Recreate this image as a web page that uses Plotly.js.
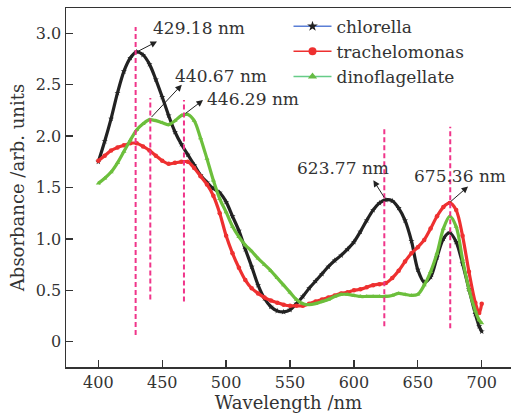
<!DOCTYPE html>
<html>
<head>
<meta charset="utf-8">
<script src="https://cdn.plot.ly/plotly-3.0.1.min.js"></script>
<style>
  html, body { margin: 0; padding: 0; background: #fff; }
  #chart { width: 511px; height: 413px; }
</style>
</head>
<body>
<div id="chart"></div>
<script>
// ---- data ----
const wavelength = [400,405,410,415,420,425,430,435,440,445,450,455,460,465,470,475,480,485,490,495,
  500,505,510,515,520,525,530,535,540,545,550,555,560,565,570,575,580,585,590,595,
  600,605,610,615,620,625,630,635,640,645,650,655,660,665,670,675,680,685,690,695,698,700];

const chlorella = [1.75,1.95,2.17,2.42,2.63,2.76,2.82,2.79,2.70,2.55,2.38,2.20,2.04,1.92,1.82,1.72,1.62,1.55,1.49,1.45,
  1.36,1.22,1.08,0.90,0.73,0.55,0.42,0.34,0.30,0.29,0.31,0.37,0.44,0.52,0.59,0.66,0.73,0.79,0.84,0.90,
  0.97,1.07,1.18,1.28,1.35,1.38,1.37,1.30,1.18,0.98,0.70,0.58,0.63,0.82,1.00,1.06,0.97,0.76,0.51,0.27,0.15,0.10];

const trachelomonas = [1.76,1.81,1.86,1.89,1.91,1.93,1.93,1.90,1.86,1.81,1.76,1.73,1.74,1.75,1.75,1.69,1.61,1.53,1.42,1.25,
  1.03,0.86,0.72,0.60,0.52,0.47,0.43,0.40,0.38,0.36,0.35,0.35,0.35,0.37,0.39,0.41,0.43,0.45,0.47,0.48,
  0.50,0.51,0.53,0.55,0.56,0.57,0.62,0.69,0.78,0.86,0.92,0.99,1.10,1.22,1.31,1.35,1.28,1.03,0.68,0.38,0.28,0.37];

const dinoflagellate = [1.54,1.59,1.65,1.74,1.85,1.96,2.06,2.12,2.16,2.15,2.13,2.11,2.15,2.20,2.21,2.15,1.98,1.78,1.57,1.39,
  1.26,1.12,1.02,0.94,0.88,0.81,0.75,0.69,0.62,0.55,0.48,0.41,0.37,0.36,0.37,0.39,0.41,0.44,0.46,0.46,
  0.45,0.44,0.44,0.44,0.44,0.44,0.45,0.47,0.46,0.45,0.46,0.55,0.68,0.86,1.10,1.22,1.12,0.80,0.51,0.30,0.21,0.18];

const seriesNames = ['chlorella', 'trachelomonas', 'dinoflagellate'];

// peak markers (dashed guide lines) and labels
const peakLineX      = [429.18, 440.67, 467.0, 623.77, 675.36];
const peakLineTop    = [3.06, 2.37, 2.35, 2.08, 2.09];
const peakLineBottom = [0.065, 0.41, 0.39, 0.15, 0.13];
const peakLabels     = ['429.18 nm', '440.67 nm', '446.29 nm', '623.77 nm', '675.36 nm'];
const arrowTailX = [430.3, 440.5, 467.1, 624.4, 674.5];
const arrowTailY = [2.82, 2.17, 2.21, 1.39, 1.35];
const arrowHeadX = [445.9, 465.3, 481.9, 615.2, 689.3];
const arrowHeadY = [2.92, 2.50, 2.35, 1.57, 1.51];
const labelX = [441.2, 458.5, 483.5, 553.8, 645.2];
const labelY = [3.05, 2.58, 2.36, 1.69, 1.61];

// ---- styling ----
const FONT = 'DejaVu Serif, Liberation Serif, serif';
const curveColors  = ['#222222', '#ee3030', '#6cbf3c'];
const legendLine   = ['#5b7fd6', '#ee3030', '#66cc88'];
const legendMarker = ['#222222', '#ee3030', '#66bb44'];
const symbols = ['star', 'circle', 'triangle-up'];
const seriesData = [chlorella, trachelomonas, dinoflagellate];

const traces = [];
seriesData.forEach((ys, i) => {
  traces.push({
    x: wavelength, y: ys, type: 'scatter', mode: 'lines+markers',
    line: { color: curveColors[i], width: 3.2, shape: 'spline', smoothing: 0.9 },
    marker: { symbol: symbols[i], size: 4.5, color: curveColors[i] },
    showlegend: false, hoverinfo: 'skip'
  });
});
seriesData.forEach((ys, i) => {
  traces.push({
    x: [null], y: [null], type: 'scatter', mode: 'lines+markers',
    name: seriesNames[i],
    line: { color: legendLine[i], width: 1.5 },
    marker: { symbol: symbols[i], size: 8, color: legendMarker[i] },
    showlegend: true
  });
});

const shapes = peakLineX.map((x, i) => ({
  type: 'line', xref: 'x', yref: 'y',
  x0: x, x1: x, y0: peakLineBottom[i], y1: peakLineTop[i],
  line: { color: '#f0358a', width: 2, dash: '5px,3px' }
}));

const annotations = [];
peakLabels.forEach((t, i) => {
  annotations.push({
    xref: 'x', yref: 'y', axref: 'x', ayref: 'y',
    x: arrowHeadX[i], y: arrowHeadY[i], ax: arrowTailX[i], ay: arrowTailY[i],
    text: '', showarrow: true, arrowhead: 2, arrowsize: 1.3, arrowwidth: 1, arrowcolor: '#222'
  });
  annotations.push({
    xref: 'x', yref: 'y', x: labelX[i], y: labelY[i],
    xanchor: 'left', yanchor: 'middle', showarrow: false, text: t,
    font: { family: FONT, size: 17, color: '#333' }
  });
});

const axisCommon = {
  showgrid: false, zeroline: false, showline: true, linecolor: '#333', linewidth: 1.5,
  ticks: 'inside', ticklen: 7, tickwidth: 1.3, tickcolor: '#333',
  tickfont: { family: FONT, size: 16, color: '#333' }
};

const layout = {
  width: 511, height: 413,
  margin: { l: 66, r: 0, t: 8, b: 46 },
  paper_bgcolor: '#fff', plot_bgcolor: '#fff',
  font: { family: FONT, color: '#333' },
  xaxis: Object.assign({}, axisCommon, {
    range: [374.7, 722.9], tickvals: [400,450,500,550,600,650,700], mirror: true,
    title: { text: 'Wavelength /nm', font: { family: FONT, size: 18, color: '#333' }, standoff: 4 }
  }),
  yaxis: Object.assign({}, axisCommon, {
    range: [-0.246, 3.246], tickvals: [0,0.5,1,1.5,2,2.5,3],
    ticktext: ['0','0.5','1.0','1.5','2.0','2.5','3.0'],
    title: { text: 'Absorbance /arb. units', font: { family: FONT, size: 18, color: '#333' }, standoff: 6 }
  }),
  legend: {
    x: 0.5, y: 0.998, xanchor: 'left', yanchor: 'top',
    bgcolor: 'rgba(0,0,0,0)', borderwidth: 0,
    font: { family: FONT, size: 17, color: '#333' },
    itemwidth: 38, tracegroupgap: 0
  },
  shapes: shapes,
  annotations: annotations,
  showlegend: true
};

Plotly.newPlot('chart', traces, layout, { displayModeBar: false, staticPlot: true });
</script>
</body>
</html>
